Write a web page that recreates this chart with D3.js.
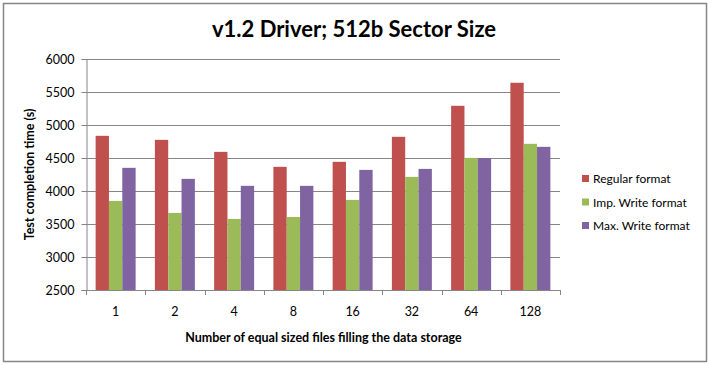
<!DOCTYPE html>
<html>
<head>
<meta charset="utf-8">
<script src="https://cdn.jsdelivr.net/npm/d3@7"></script>
<style>
  body { margin: 0; background: #fff; }
  text { font-family: Lato, "Open Sans", sans-serif; fill: #000; }
</style>
</head>
<body>
<div id="chart"></div>
<script>
// data
var categories = ["1", "2", "4", "8", "16", "32", "64", "128"];
var seriesNames = ["Regular format", "Imp. Write format", "Max. Write format"];
var regular = [4836, 4775, 4593, 4366, 4442, 4821, 5291, 5640];
var impWrite = [3850, 3668, 3577, 3607, 3865, 4214, 4502, 4715];
var maxWrite = [4351, 4184, 4078, 4078, 4320, 4335, 4500, 4669];
var yTicks = [2500, 3000, 3500, 4000, 4500, 5000, 5500, 6000];
var colors = ["#C0504D", "#9BBB59", "#8064A2"];

var W = 711, H = 365;
var pLeft = 86, pRight = 560, pTop = 59, pBottom = 290;

var svg = d3.select("#chart").append("svg")
  .attr("width", W).attr("height", H);

// outer frame
svg.append("rect")
  .attr("x", 3.5).attr("y", 3.5)
  .attr("width", 703).attr("height", 358)
  .attr("fill", "#fff").attr("stroke", "#868686").attr("stroke-width", 1.5);

var x = d3.scaleBand().domain(categories).range([pLeft, pRight]).paddingInner(0.325).paddingOuter(0.1625);
var xs = d3.scaleBand().domain(seriesNames).range([0, x.bandwidth()]);
var y = d3.scaleLinear().domain([2500, 6000]).range([pBottom, pTop]);

// gridlines
svg.append("g").selectAll("line").data(yTicks.slice(1)).enter().append("line")
  .attr("x1", pLeft).attr("x2", pRight)
  .attr("y1", function(d){ return Math.round(y(d)) + 0.5; })
  .attr("y2", function(d){ return Math.round(y(d)) + 0.5; })
  .attr("stroke", "#868686").attr("stroke-width", 1);

var table = [regular, impWrite, maxWrite];
var groups = svg.append("g").selectAll("g").data(categories).enter().append("g")
  .attr("transform", function(d){ return "translate(" + x(d) + ",0)"; });

groups.selectAll("rect").data(function(d, i){
    return seriesNames.map(function(s, j){ return {s: s, v: table[j][i], c: colors[j]}; });
  }).enter().append("rect")
  .attr("x", function(d){ return xs(d.s); })
  .attr("width", xs.bandwidth())
  .attr("y", function(d){ return y(d.v); })
  .attr("height", function(d){ return pBottom - y(d.v); })
  .attr("fill", function(d){ return d.c; });

// y axis
var yAxis = d3.axisLeft(y).tickValues(yTicks).tickFormat(d3.format("d")).tickSize(5).tickPadding(7);
var gy = svg.append("g").attr("transform", "translate(" + (pLeft + 0.5) + ",0)").call(yAxis);
gy.select(".domain").attr("stroke", "#868686");
gy.selectAll(".tick line").attr("stroke", "#868686");
gy.selectAll(".tick text").style("font-size", "12.5px").style("font-family", "Lato, sans-serif");

// x axis with ticks between categories
var bounds = d3.range(categories.length + 1).map(function(i){ return pLeft + i * (pRight - pLeft) / categories.length; });
var gx = svg.append("g");
gx.append("line").attr("x1", pLeft).attr("x2", pRight)
  .attr("y1", pBottom + 0.5).attr("y2", pBottom + 0.5).attr("stroke", "#868686");
gx.selectAll(".bt").data(bounds).enter().append("line")
  .attr("x1", function(d){ return Math.round(d) + 0.5; })
  .attr("x2", function(d){ return Math.round(d) + 0.5; })
  .attr("y1", pBottom).attr("y2", pBottom + 5).attr("stroke", "#868686");
gx.selectAll("text").data(categories).enter().append("text")
  .attr("x", function(d){ return x(d) + x.bandwidth() / 2; })
  .attr("y", 316)
  .attr("text-anchor", "middle")
  .style("font-size", "12.5px")
  .text(function(d){ return d; });

// titles
svg.append("text").attr("x", 354).attr("y", 37).attr("text-anchor", "middle")
  .style("font-size", "22px").style("font-weight", "bold")
  .text("v1.2 Driver; 512b Sector Size");
svg.append("text").attr("x", (pLeft + pRight) / 2 + 0.5).attr("y", 342).attr("text-anchor", "middle")
  .style("font-size", "12.5px").style("font-weight", "bold")
  .text("Number of equal sized files filling the data storage");
svg.append("text").attr("transform", "translate(34," + ((pTop + pBottom) / 2) + ") rotate(-90)")
  .attr("text-anchor", "middle")
  .style("font-size", "12.5px").style("font-weight", "bold")
  .text("Test completion time (s)");

// legend
var leg = svg.append("g").selectAll("g").data(seriesNames).enter().append("g")
  .attr("transform", function(d, i){ return "translate(582," + (175 + i * 23.5) + ")"; });
leg.append("rect").attr("width", 7).attr("height", 7)
  .attr("fill", function(d, i){ return colors[i]; });
leg.append("text").attr("x", 11).attr("y", 8)
  .style("font-size", "12px")
  .text(function(d){ return d; });
</script>
</body>
</html>
